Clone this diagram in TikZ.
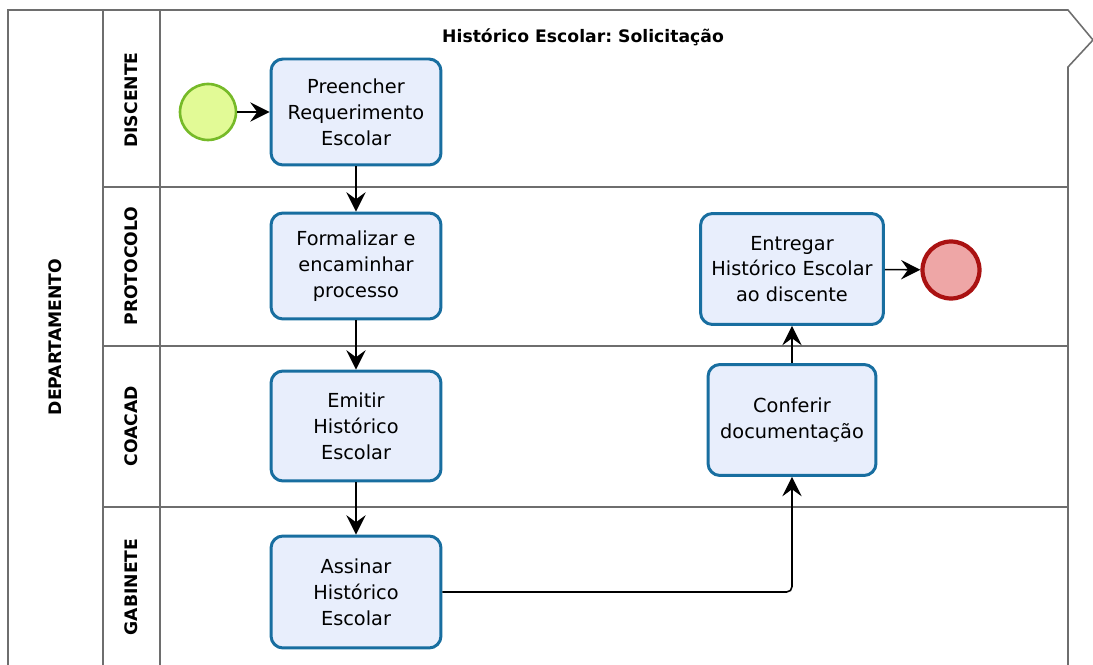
\documentclass[tikz,border=0pt]{standalone}
\usepackage{fontspec}
\setmainfont{DejaVu Sans}
\frenchspacing
\usetikzlibrary{arrows.meta}
\definecolor{taskline}{RGB}{24,110,160}
\definecolor{taskfill}{RGB}{232,238,252}
\definecolor{startline}{RGB}{118,186,40}
\definecolor{startfill}{RGB}{226,250,150}
\definecolor{endline}{RGB}{170,18,18}
\definecolor{endfill}{RGB}{238,166,166}
\definecolor{poolline}{RGB}{110,110,110}
\tikzset{
    task/.style={rectangle,rounded corners=0.24cm,draw=taskline,fill=taskfill,line width=1.7pt,align=center,inner sep=0pt,font=\fontsize{11}{14.7}\selectfont},
    startev/.style={circle,draw=startline,fill=startfill,line width=1.5pt,minimum size=1.12cm,inner sep=0pt},
    endev/.style={circle,draw=endline,fill=endfill,line width=2.4pt,minimum size=1.14cm,inner sep=0pt},
    flow/.style={-{Stealth[length=11pt,width=11pt,inset=4pt]},line width=0.9pt,draw=black},
    lane/.style={draw=poolline,line width=0.9pt},
    lanelabel/.style={rotate=90,font=\fontsize{9.8}{12}\selectfont\bfseries},
}

\begin{document}
\begin{tikzpicture}[x=0.02cm,y=-0.02cm]
\useasboundingbox (0,0) rectangle (1093,665);
% pool and lanes
\draw[lane] (8,665) -- (8,10) -- (1068,10) -- (1093,40) -- (1068,67) -- (1068,665);
\draw[lane] (103,10) -- (103,665);
\draw[lane] (160,10) -- (160,665);
\draw[lane] (103,187) -- (1068,187);
\draw[lane] (103,346) -- (1068,346);
\draw[lane] (103,507) -- (1068,507);
\node[font=\fontsize{9.8}{12}\selectfont\bfseries] (title) at (583,37) {Histórico Escolar: Solicitação};
\node[lanelabel] (dep) at (55,337) {DEPARTAMENTO};
\node[lanelabel] (disc) at (131,100) {DISCENTE};
\node[lanelabel] (prot) at (131,266) {PROTOCOLO};
\node[lanelabel] (coac) at (131,426) {COACAD};
\node[lanelabel] (gabi) at (131,587) {GABINETE};
% events and tasks
\node[startev] (start) at (208,112) {};
\node[task,minimum width=3.4cm,minimum height=2.12cm] (pre) at (356,112) {Preencher\\Requerimento\\Escolar};
\node[task,minimum width=3.4cm,minimum height=2.12cm] (form) at (356,266) {Formalizar e\\encaminhar\\processo};
\node[task,minimum width=3.4cm,minimum height=2.2cm] (emit) at (356,426) {Emitir\\Histórico\\Escolar};
\node[task,minimum width=3.4cm,minimum height=2.24cm] (assin) at (356,592) {Assinar\\Histórico\\Escolar};
\node[task,minimum width=3.66cm,minimum height=2.22cm] (entr) at (792,269) {Entregar\\Histórico Escolar\\ao discente};
\node[task,minimum width=3.36cm,minimum height=2.22cm] (conf) at (792,420) {Conferir\\documentação};
\node[endev] (fim) at (951,270) {};
% flows
\draw[flow] (start) -- (pre);
\draw[flow] (pre) -- (form);
\draw[flow] (form) -- (emit);
\draw[flow] (emit) -- (assin);
\draw[flow,rounded corners=3pt] (assin.east) -| (conf.south);
\draw[flow] (conf) -- (entr);
\draw[flow] (entr) -- (fim);
\end{tikzpicture}
\end{document}
